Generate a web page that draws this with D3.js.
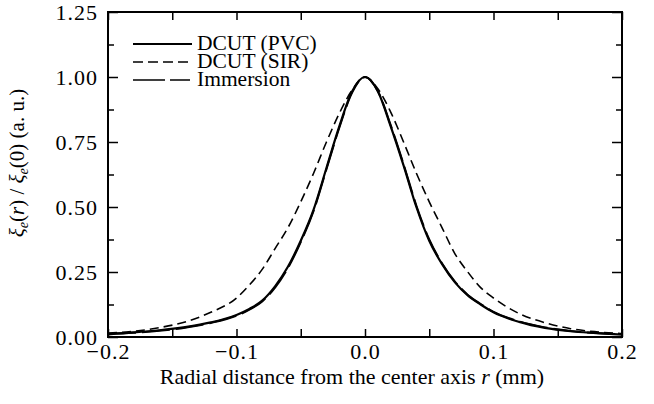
<!DOCTYPE html>
<html>
<head>
    <script src="https://cdnjs.cloudflare.com/ajax/libs/d3/7.8.5/d3.min.js"></script>
    <style>
        body, html {
            margin: 0;
            padding: 0;
            background: #fff;
        }
        svg {
            display: block;
        }
        .axis path, .axis line {
            stroke: #000;
        }
    </style>
</head>
<body>
    <svg></svg>
    <script>
        // radial distance (mm)
        const radius = [-0.20, -0.18, -0.16, -0.14, -0.12, -0.10, -0.09, -0.08, -0.07, -0.06, -0.05,
                        -0.04, -0.03, -0.02, -0.01, 0.00, 0.01, 0.02, 0.03, 0.04, 0.05, 0.06,
                        0.07, 0.08, 0.09, 0.10, 0.12, 0.14, 0.16, 0.18, 0.20];
        const dcutPVC = [0.012, 0.018, 0.026, 0.038, 0.056, 0.085, 0.108, 0.14, 0.195, 0.27, 0.37,
                         0.49, 0.65, 0.81, 0.945, 1.0, 0.945, 0.81, 0.66, 0.50, 0.37, 0.28,
                         0.21, 0.16, 0.125, 0.095, 0.058, 0.035, 0.022, 0.015, 0.009];
        const dcutSIR = [0.015, 0.022, 0.036, 0.058, 0.095, 0.15, 0.20, 0.26, 0.34, 0.42, 0.52,
                         0.63, 0.75, 0.86, 0.95, 1.0, 0.955, 0.865, 0.75, 0.63, 0.52, 0.42,
                         0.32, 0.25, 0.19, 0.15, 0.09, 0.055, 0.032, 0.02, 0.013];
        const immersion = [0.010, 0.016, 0.024, 0.036, 0.054, 0.082, 0.105, 0.137, 0.19, 0.265, 0.365,
                           0.485, 0.645, 0.805, 0.94, 1.0, 0.945, 0.815, 0.665, 0.505, 0.375, 0.283,
                           0.213, 0.162, 0.127, 0.097, 0.06, 0.037, 0.023, 0.015, 0.010];

        const seriesNames = ["DCUT (PVC)", "DCUT (SIR)", "Immersion"];
        const xTicks = [-0.2, -0.15, -0.1, -0.05, 0, 0.05, 0.1, 0.15, 0.2];
        const yMajor = [0, 0.25, 0.5, 0.75, 1.0, 1.25];
        const yMinor = [0.125, 0.375, 0.625, 0.875, 1.125];

        const FONT = '"Liberation Serif"';

        const width = 654, height = 404;
        const margin = {left: 108, right: 32, top: 12, bottom: 67};

        const svg = d3.select("svg")
            .attr("width", width)
            .attr("height", height);

        const x = d3.scaleLinear().domain([-0.2, 0.2]).range([margin.left, width - margin.right]);
        const y = d3.scaleLinear().domain([0, 1.25]).range([height - margin.bottom, margin.top]);

        const fmtX = d3.format(".1f");
        const fmtY = d3.format(".2f");

        // bottom axis (ticks pointing inward)
        svg.append("g")
            .attr("class", "axis")
            .attr("transform", `translate(0,${y(0)})`)
            .call(d3.axisBottom(x).tickValues(xTicks).tickSize(-8).tickPadding(6)
                .tickFormat(d => (Math.abs(d * 10 - Math.round(d * 10)) < 1e-6) ? fmtX(d) : ""))
            .call(g => g.select(".domain").remove());

        // top axis
        svg.append("g")
            .attr("class", "axis")
            .attr("transform", `translate(0,${y(1.25)})`)
            .call(d3.axisTop(x).tickValues(xTicks).tickSize(-8).tickFormat(""))
            .call(g => g.select(".domain").remove());

        // left axis
        svg.append("g")
            .attr("class", "axis")
            .attr("transform", `translate(${x(-0.2)},0)`)
            .call(d3.axisLeft(y).tickValues(yMajor).tickSize(-10).tickPadding(10).tickFormat(fmtY))
            .call(g => g.select(".domain").remove());
        svg.append("g")
            .attr("class", "axis")
            .attr("transform", `translate(${x(-0.2)},0)`)
            .call(d3.axisLeft(y).tickValues(yMinor).tickSize(-6).tickFormat(""))
            .call(g => g.select(".domain").remove());

        // right axis
        svg.append("g")
            .attr("class", "axis")
            .attr("transform", `translate(${x(0.2)},0)`)
            .call(d3.axisRight(y).tickValues(yMajor).tickSize(-10).tickFormat(""))
            .call(g => g.select(".domain").remove());
        svg.append("g")
            .attr("class", "axis")
            .attr("transform", `translate(${x(0.2)},0)`)
            .call(d3.axisRight(y).tickValues(yMinor).tickSize(-6).tickFormat(""))
            .call(g => g.select(".domain").remove());

        svg.selectAll(".axis .tick line").attr("stroke-width", 1.5);
        svg.selectAll(".axis .tick text")
            .attr("fill", "#000")
            .style("font-family", FONT)
            .style("font-size", "22px")
            .style("letter-spacing", "1px");

        // frame
        svg.append("rect")
            .attr("x", x(-0.2))
            .attr("y", y(1.25))
            .attr("width", x(0.2) - x(-0.2))
            .attr("height", y(0) - y(1.25))
            .attr("fill", "none")
            .attr("stroke", "#000")
            .attr("stroke-width", 2);

        const line = d3.line()
            .x((d, i) => x(radius[i]))
            .y(d => y(d))
            .curve(d3.curveMonotoneX);

        const series = [
            {name: seriesNames[0], values: dcutPVC, dash: null, w: 2.2},
            {name: seriesNames[1], values: dcutSIR, dash: "9,5", w: 1.6},
            {name: seriesNames[2], values: immersion, dash: "28,6", w: 2}
        ];

        svg.append("g")
            .selectAll("path")
            .data(series)
            .join("path")
            .attr("d", d => line(d.values))
            .attr("fill", "none")
            .attr("stroke", "#000")
            .attr("stroke-width", d => d.w)
            .attr("stroke-dasharray", d => d.dash);

        // legend
        const legend = svg.append("g")
            .selectAll("g")
            .data(series)
            .join("g")
            .attr("transform", (d, i) => `translate(133,${44 + i * 18})`);

        legend.append("line")
            .attr("x1", 0)
            .attr("x2", 59)
            .attr("stroke", "#000")
            .attr("stroke-width", d => d.w * 0.8)
            .attr("stroke-dasharray", (d, i) => i === 2 ? "32,5,20" : (i === 1 ? "10,5" : null));

        legend.append("text")
            .attr("x", 64)
            .attr("y", 6)
            .style("font-family", FONT)
            .style("font-size", "21.5px")
            .text(d => d.name);

        // x title
        const xt = svg.append("text")
            .attr("x", 352)
            .attr("y", 384)
            .attr("text-anchor", "middle")
            .style("font-family", FONT)
            .style("font-size", "22px");
        xt.append("tspan").text("Radial distance from the center axis ");
        xt.append("tspan").style("font-style", "italic").text("r");
        xt.append("tspan").text(" (mm)");

        // y title
        const yt = svg.append("text")
            .attr("transform", "translate(24,163) rotate(-90)")
            .attr("text-anchor", "middle")
            .style("font-family", FONT)
            .style("font-size", "21px");
        yt.append("tspan").style("font-style", "italic").text("ξ");
        yt.append("tspan").style("font-style", "italic").style("font-size", "14px").attr("dy", 4).text("e");
        yt.append("tspan").attr("dy", -4).text("(");
        yt.append("tspan").style("font-style", "italic").text("r");
        yt.append("tspan").text(") / ");
        yt.append("tspan").style("font-style", "italic").text("ξ");
        yt.append("tspan").style("font-style", "italic").style("font-size", "14px").attr("dy", 4).text("e");
        yt.append("tspan").attr("dy", -4).text("(0) (a. u.)");
    </script>
</body>
</html>
